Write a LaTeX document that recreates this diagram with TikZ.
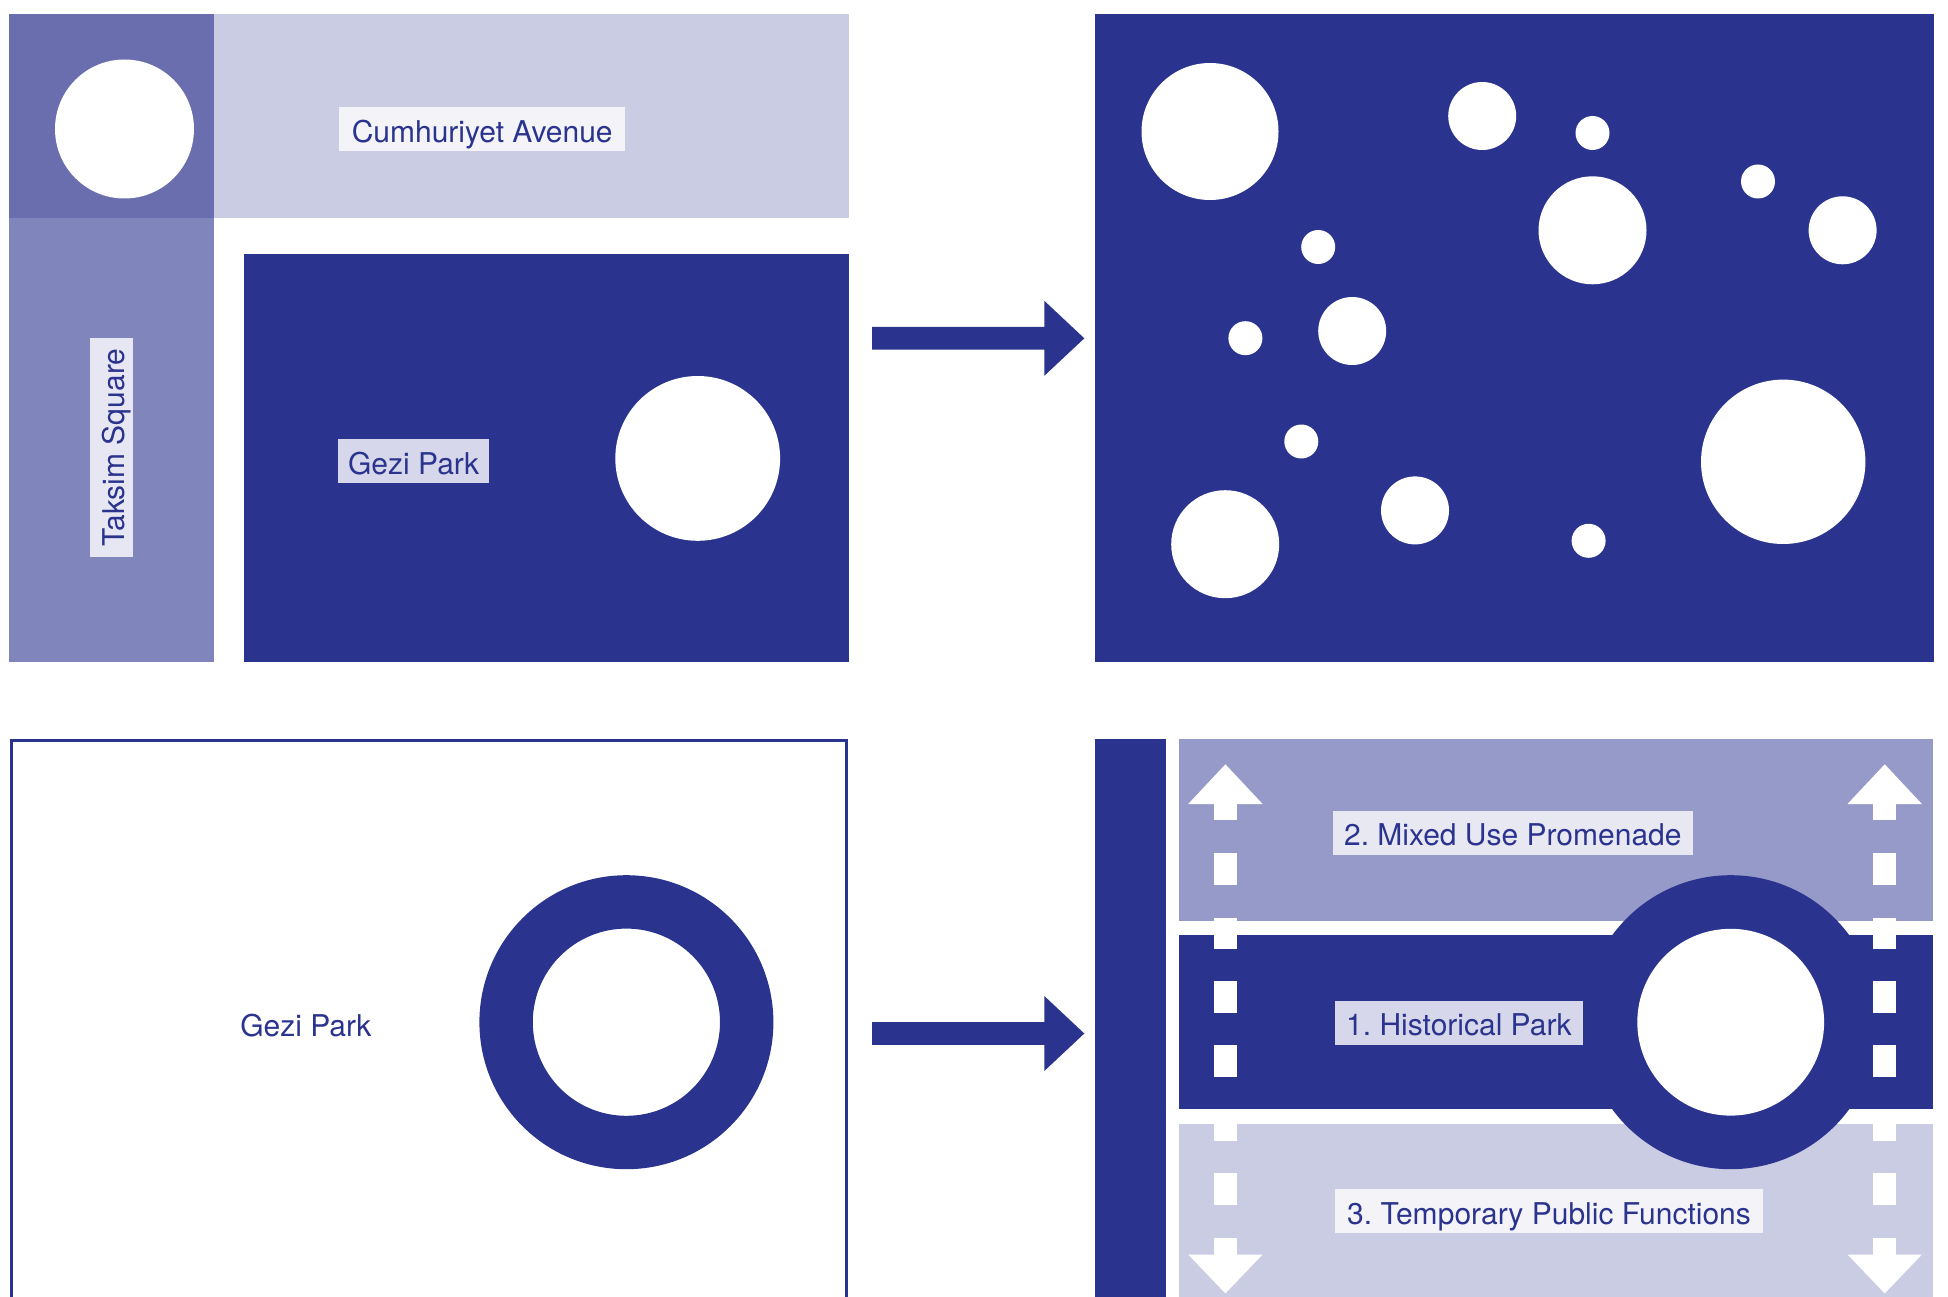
\documentclass[tikz,border=0pt]{standalone}
\usepackage{fontspec}
\setmainfont{TeX Gyre Heros}
\frenchspacing
\definecolor{dkblue}{HTML}{2A338E}
\definecolor{tlcell}{HTML}{6A6EAF}
\definecolor{taksimband}{HTML}{8085BC}
\definecolor{avenueband}{HTML}{CACCE3}
\definecolor{promenband}{HTML}{969AC8}
\definecolor{labA}{HTML}{F3F3F8}
\definecolor{labB}{HTML}{E6E7F2}
\definecolor{labC}{HTML}{D6D7EA}
\definecolor{labD}{HTML}{E8E8F3}
\begin{document}
\begin{tikzpicture}[x=1pt,y=-1pt,
  lab/.style={font=\fontsize{30}{36}\selectfont, text=dkblue, inner sep=0pt,
              text height=26pt, text depth=0pt},
  hole/.style={fill=white},
  bigarrow/.style={fill=dkblue}]
\useasboundingbox (0,0) rectangle (1948,1297);

% ---------- top-left panel ----------
\fill[tlcell] (9.3,14.3) rectangle (213.9,218.1);
\fill[avenueband] (213.9,14.3) rectangle (849,218.1);
\fill[taksimband] (9.3,218.1) rectangle (213.9,662.2);
\fill[dkblue] (244.1,254.5) rectangle (849.1,662.2);
\fill[hole] (124.5,129) circle[radius=69.5pt];
\fill[hole] (697.7,458.4) circle[radius=82.4pt];
\node[lab, fill=labA, minimum width=286.3pt, minimum height=43.4pt] (cum) at (482.2,129.2) {Cumhuriyet Avenue};
\node[lab, fill=labB, rotate=90, minimum width=219pt, minimum height=43.3pt] (taksim) at (111.7,447.7) {Taksim Square};
\node[lab, fill=labC, minimum width=151.4pt, minimum height=43.3pt] (gezi1) at (413.6,461) {Gezi Park};

% ---------- arrows ----------
\foreach \c in {338.3,1033.5}{
  \fill[bigarrow] (872,\c-11.4) -- (1044.3,\c-11.4) -- (1044.3,\c-37.5) -- (1084.3,\c)
     -- (1044.3,\c+37.5) -- (1044.3,\c+11.4) -- (872,\c+11.4) -- cycle;
}

% ---------- top-right panel ----------
\fill[dkblue] (1094.9,14.3) rectangle (1933.5,662.2);
\foreach \px/\py/\r in {1210/131.5/68.5, 1482.2/116/34, 1592.5/133/17, 1592.5/230.3/54,
    1758/181.5/17, 1842.6/230.3/34, 1318.2/247/17, 1245.4/338.2/17, 1352.2/331/34,
    1301.3/441.5/17, 1415/510.4/34, 1225.2/544.2/54, 1588.6/540.8/17, 1783.2/461.8/82.2}{
  \fill[hole] (\px,\py) circle[radius=\r pt];
}

% ---------- bottom-left panel ----------
\draw[dkblue, line width=2.7pt] (11.2,1300) -- (11.2,740.6) -- (846.3,740.6) -- (846.3,1300);
\fill[dkblue, even odd rule] (626.4,1022.2) circle[radius=147pt] (626.4,1022.2) circle[radius=93.6pt];
\node[lab] (gezi2) at (305.8,1023) {Gezi Park};

% ---------- bottom-right panel ----------
\fill[dkblue] (1094.9,739.1) rectangle (1166.1,1300);
\fill[promenband] (1179.2,739.1) rectangle (1933,921.3);
\fill[dkblue] (1179.2,934.9) rectangle (1933,1109.4);
\fill[avenueband] (1179.2,1123.7) rectangle (1933,1300);
\fill[dkblue] (1730.7,1022.2) circle[radius=147pt];
\fill[hole] (1730.7,1022.2) circle[radius=93.4pt];
\foreach \x in {1225.4,1884.7}{
  \fill[white] (\x-37.2,804) -- (\x,764.3) -- (\x+37.2,804) -- cycle;
  \fill[white] (\x-37.2,1254.5) -- (\x,1293.4) -- (\x+37.2,1254.5) -- cycle;
  \foreach \a/\b in {803.5/820.1, 852.5/884.9, 917.6/948.5, 981.3/1013.3, 1045/1077,
      1109/1140.7, 1173.4/1205.1, 1238.2/1255}{
    \fill[white] (\x-11.4,\a) rectangle (\x+11.4,\b);
  }
}
\node[lab, fill=labD, minimum width=359.6pt, minimum height=44.2pt] (mixed) at (1512.8,832.6) {2. Mixed Use Promenade};
\node[lab, fill=labC, minimum width=247.4pt, minimum height=43.8pt] (hist) at (1458.9,1022.7) {1. Historical Park};
\node[lab, fill=labA, minimum width=427.5pt, minimum height=43.4pt] (temp) at (1549,1211) {3. Temporary Public Functions};
\end{tikzpicture}
\end{document}
